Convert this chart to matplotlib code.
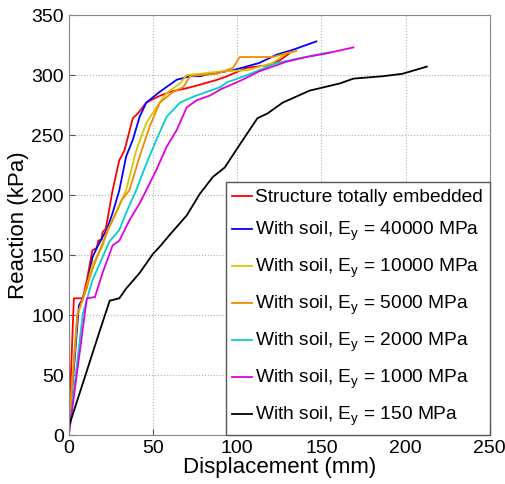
import numpy as np
import matplotlib.pyplot as plt

plt.rcParams['font.family'] = ['Liberation Sans', 'DejaVu Sans']
plt.rcParams['mathtext.fontset'] = 'custom'
plt.rcParams['mathtext.rm'] = 'Liberation Sans'
plt.rcParams['mathtext.it'] = 'Liberation Sans'

# displacement (mm) / reaction (kPa)
emb_x = [0, 3, 8.3, 10.7, 14, 16.6, 17.5, 19.5, 20, 22, 26, 30, 33, 38, 41, 46, 53, 60, 70, 78, 88, 94, 105.6, 117.6, 125, 131]
emb_y = [5, 114, 114, 129, 154, 156, 162, 163, 169, 172, 204, 229, 237, 264, 268, 277, 282, 286, 289, 292, 296, 299, 306, 308, 312, 318]

e40k_x = [0, 6, 8, 10.7, 14, 17, 20, 22.5, 26, 30, 34, 38, 42, 46, 54, 64, 72, 78, 84, 97.5, 113, 123.5, 133, 147]
e40k_y = [3, 108, 113, 123, 148, 157, 165, 171, 185, 204, 232, 246, 265, 277, 286, 296, 299, 299, 301, 304, 310, 317, 321, 328]

e10k_x = [0, 5, 8, 11, 14, 20, 23, 28, 34, 40, 46, 52, 58, 66, 70, 78, 90, 106, 121, 129, 135]
e10k_y = [5, 100, 112, 126, 142, 157, 171, 185, 204, 237, 260, 273, 285, 293, 300, 301, 303, 304, 310, 318, 320]

e5k_x = [0, 5, 7, 10, 14, 20, 24, 31.5, 36, 42, 48, 54, 62, 68, 72, 78, 88, 97.5, 101.5, 121, 129, 135]
e5k_y = [5, 100, 108, 120, 138, 160, 173, 196, 204, 232, 257, 277, 286, 290, 299, 300, 301, 306, 315, 315, 318, 320]

e2k_x = [0, 8.3, 14, 18.4, 24, 30, 34, 40, 46, 52, 58, 66, 74, 84, 90, 94, 106, 123.5, 137, 155]
e2k_y = [0, 101, 129, 143, 161, 171, 185, 204, 226, 246, 265, 277, 282, 287, 290, 294, 300, 310, 314, 319]

e1k_x = [0, 10.7, 15.5, 20, 26, 30, 36, 42, 46, 52, 58, 64, 70, 76, 84, 90, 101.5, 113, 129, 141, 153, 169]
e1k_y = [0, 114, 115, 135, 158, 162, 179, 193, 204, 221, 240, 254, 273, 279, 283, 288, 295, 303, 311, 315, 318, 323]

e150_x = [0, 18.4, 24.3, 30, 34, 42, 50, 54, 60, 70, 77.8, 85.5, 92.6, 101.5, 112, 118, 127, 143, 149, 161, 169, 186.5, 198, 212.6]
e150_y = [7, 87, 112, 114, 122, 135, 151, 157, 167, 183, 201, 215, 223, 242, 264, 268, 277, 287, 289, 293, 297, 299, 301, 307]

series = [
    (emb_x, emb_y, 'red', 'Structure totally embedded'),
    (e40k_x, e40k_y, 'blue', r'With soil, E$_\mathregular{y}$ = 40000 MPa'),
    (e10k_x, e10k_y, '#d8c800', r'With soil, E$_\mathregular{y}$ = 10000 MPa'),
    (e5k_x, e5k_y, '#f08c00', r'With soil, E$_\mathregular{y}$ = 5000 MPa'),
    (e2k_x, e2k_y, '#00d0d0', r'With soil, E$_\mathregular{y}$ = 2000 MPa'),
    (e1k_x, e1k_y, '#e000e0', r'With soil, E$_\mathregular{y}$ = 1000 MPa'),
    (e150_x, e150_y, 'black', r'With soil, E$_\mathregular{y}$ = 150 MPa'),
]

fig = plt.figure(figsize=(5.06, 4.84), dpi=100)
ax = fig.add_axes([0.136, 0.101, 0.832, 0.868])
for x, y, c, lab in series:
    ax.plot(x, y, color=c, lw=1.3, label=lab)

ax.set_xlim(0, 250)
ax.set_ylim(0, 350)
ax.set_xticks(np.arange(0, 251, 50))
ax.set_yticks(np.arange(0, 351, 50))
ax.grid(True, ls=':', color='#b0b0b0', lw=0.8)
ax.tick_params(direction='in', labelsize=14, length=4, color='#555555')
for s in ax.spines.values():
    s.set_color('#888888')
ax.set_xlabel('Displacement (mm)', fontsize=16, labelpad=0)
ax.set_ylabel('Reaction (kPa)', fontsize=16, labelpad=2)

leg = ax.legend(loc='lower right', fontsize=13.8, borderaxespad=0, fancybox=False,
                edgecolor='#555555', framealpha=1, handlelength=1.0, handletextpad=0.2,
                labelspacing=0.72, borderpad=0.35)
leg.get_frame().set_linewidth(1.0)

plt.savefig('out.png', dpi=100)
